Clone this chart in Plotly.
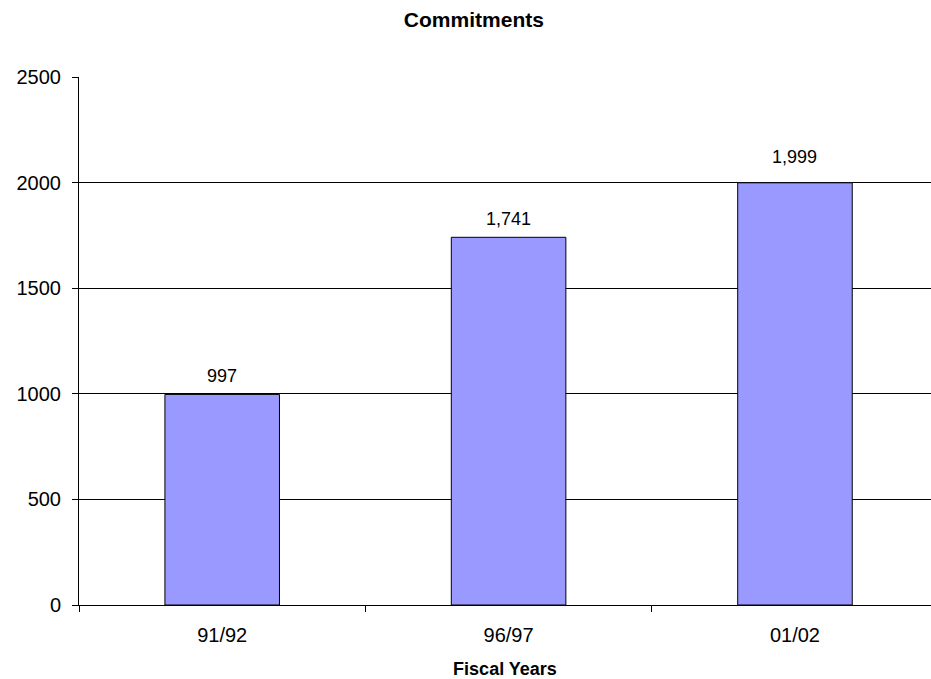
import plotly.graph_objects as go

categories = ["91/92", "96/97", "01/02"]
values = [997, 1741, 1999]
y_ticks = [0, 500, 1000, 1500, 2000, 2500]

FONT = "Liberation Sans, Arial, sans-serif"

fig = go.Figure()
fig.add_trace(go.Bar(
    x=categories, y=values, width=0.4,
    marker=dict(color="#9999FF", line=dict(color="black", width=1)),
    hoverinfo="skip",
))
for i, (c, v) in enumerate(zip(categories, values)):
    fig.add_annotation(x=c, y=v, text=f"{v:,}", showarrow=False,
                       yanchor="bottom", yshift=6 if i < 2 else 14,
                       font=dict(family=FONT, size=18, color="black"))

fig.update_layout(
    width=931, height=679,
    margin=dict(l=79, r=0, t=77, b=74),
    paper_bgcolor="white", plot_bgcolor="white",
    showlegend=False,
    title=dict(text="<b>Commitments</b>", x=0.509, xanchor="center",
               y=1 - 20/679, yanchor="middle",
               font=dict(family=FONT, size=21, color="black")),
    xaxis=dict(
        range=[-0.5, 2.475], showline=True, linecolor="black", linewidth=1,
        ticks="outside", tickson="boundaries", ticklen=6, tickcolor="black",
        ticklabelstandoff=12,
        tickfont=dict(family=FONT, size=20, color="black"),
        title=dict(text="<b>Fiscal Years</b>", standoff=18,
                   font=dict(family=FONT, size=18, color="black")),
        showgrid=False,
    ),
    yaxis=dict(
        range=[0, 2500], tickvals=y_ticks, showline=True, linecolor="black",
        linewidth=1, ticks="outside", ticklen=6, tickcolor="black",
        ticklabelstandoff=7,
        tickfont=dict(family=FONT, size=20, color="black"),
        showgrid=True, gridcolor="black", gridwidth=1, zeroline=False,
    ),
)

fig.write_html(
    "out.html",
    config={"displayModeBar": False},
    post_script="document.body.style.margin='0';document.body.style.overflow='hidden';",
)
